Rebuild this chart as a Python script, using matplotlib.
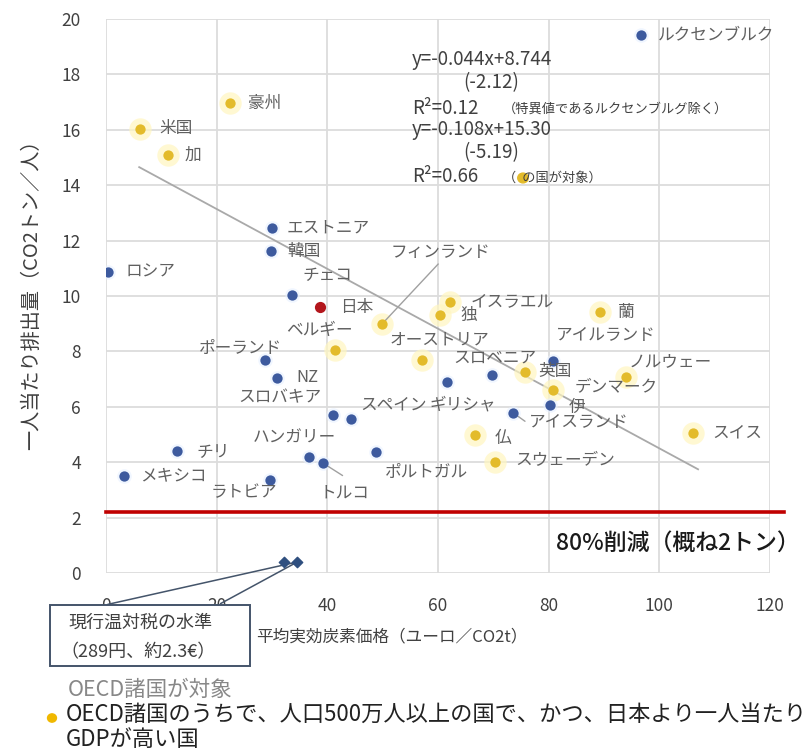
import matplotlib
matplotlib.use("Agg")
import matplotlib.pyplot as plt
from matplotlib.patches import Rectangle
import numpy as np

plt.rcParams['font.family'] = ['Noto Sans CJK JP', 'DejaVu Sans']

# ---------------- data ----------------
blue_names = ['ルクセンブルク', 'ロシア', 'エストニア', '韓国', 'チェコ', 'ポーランド', 'NZ',
              'スロバキア', 'スペイン', 'ギリシャ', 'スロベニア', 'アイルランド', '伊',
              'アイスランド', 'ハンガリー', 'トルコ', 'ポルトガル', 'チリ', 'メキシコ', 'ラトビア']
blue_x = [96.6, 0.4, 30.0, 29.8, 33.6, 28.8, 30.9, 41.0, 44.3, 61.7, 69.8, 80.7, 80.3,
          73.6, 36.7, 39.2, 48.8, 12.8, 3.3, 29.7]
blue_y = [19.42, 10.87, 12.45, 11.62, 10.04, 7.69, 7.04, 5.70, 5.56, 6.90, 7.15, 7.65, 6.06,
          5.78, 4.19, 3.97, 4.37, 4.40, 3.50, 3.36]

yellow_names = ['米国', '加', '豪州', 'フィンランド', 'ベルギー', 'イスラエル', '独', 'オーストリア',
                '蘭', '英国', 'デンマーク', 'ノルウェー', 'スイス', '仏', 'スウェーデン']
yellow_x = [6.1, 11.2, 22.4, 49.9, 41.4, 62.2, 60.4, 57.1, 89.3, 75.8, 80.8, 93.9, 106.1, 66.7, 70.3]
yellow_y = [16.03, 15.09, 16.97, 8.99, 8.05, 9.78, 9.31, 7.69, 9.42, 7.26, 6.61, 7.08, 5.05, 4.98, 4.01]

japan_name = '日本'
japan_x = [38.7]
japan_y = [9.6]

trend_slope = -0.108
trend_intercept = 15.30
trend_range = [6.0, 107.0]

target_level = 2.2
tax_marker_x = [32.2, 34.6]
tax_marker_y = [0.4, 0.4]

x_ticks = [0, 20, 40, 60, 80, 100, 120]
y_ticks = [0, 2, 4, 6, 8, 10, 12, 14, 16, 18, 20]

# label offsets (pixels) : (dx, dy, ha)
label_off = {
    'ルクセンブルク': (17, 0, 'left'), 'ロシア': (17, 0, 'left'), 'エストニア': (15, 0, 'left'),
    '韓国': (16, 0, 'left'), 'チェコ': (11, 19, 'left'), 'ポーランド': (-66, 12, 'left'),
    'NZ': (19, 0, 'left'), 'スロバキア': (-11, 17, 'right'), 'スペイン': (9, 14, 'left'),
    'ギリシャ': (-18, -23, 'left'), 'スロベニア': (-39, 17, 'left'), 'アイルランド': (3, 26, 'left'),
    '伊': (18, -2, 'left'), 'アイスランド': (16, -10, 'left'), 'ハンガリー': (-56, 19, 'left'),
    'トルコ': (-3, -30, 'left'), 'ポルトガル': (9, -21, 'left'), 'チリ': (20, 0, 'left'),
    'メキシコ': (16, 0, 'left'), 'ラトビア': (-60, -13, 'left'),
    '米国': (20, 0, 'left'), '加': (17, 0, 'left'), '豪州': (18, 0, 'left'),
    'フィンランド': (8, 71, 'left'), 'ベルギー': (-49, 20, 'left'), 'イスラエル': (20, 0, 'left'),
    '独': (20, 0, 'left'), 'オーストリア': (-32, 20, 'left'), '蘭': (18, 0, 'left'),
    '英国': (13, 0, 'left'), 'デンマーク': (22, 3, 'left'), 'ノルウェー': (3, 15, 'left'),
    'スイス': (19, 0, 'left'), '仏': (20, -3, 'left'), 'スウェーデン': (20, 1, 'left'),
    '日本': (20, 0, 'left'),
}

W, H = 810, 754
fig = plt.figure(figsize=(W / 100, H / 100), dpi=100)
def fx(px): return px / W
def fy(py): return 1 - py / H

ax = fig.add_axes([fx(106), fy(573), fx(770) - fx(106), fy(19) - fy(573)])
ax.set_xlim(0, 120)
ax.set_ylim(0, 20)
ax.set_xticks(x_ticks)
ax.set_yticks(y_ticks)
ax.grid(True, color='#dcdcdc', linewidth=1.3)
ax.set_axisbelow(True)
for s in ax.spines.values():
    s.set_visible(False)
ax.tick_params(length=0, labelsize=12.5, labelcolor='#404040')
ax.tick_params(axis='x', pad=17)
ax.tick_params(axis='y', pad=18)

# trend line
tx = np.array(trend_range)
ax.plot(tx, trend_slope * tx + trend_intercept, color='#a9a9a9', linewidth=1.3, zorder=2)

# red target line
ax.plot([0, 122.5], [target_level, target_level], color='#c00000', linewidth=2.6,
        clip_on=False, zorder=3)

# points
ax.scatter(yellow_x, yellow_y, s=260, color='#fff6c0', alpha=0.7, linewidths=0, zorder=3)
ax.scatter(blue_x, blue_y, s=110, color='#e6f0ff', alpha=0.6, linewidths=0, zorder=3)
ax.scatter(blue_x, blue_y, s=55, color='#3d5a9e', linewidths=0, zorder=4)
ax.scatter(yellow_x, yellow_y, s=55, color='#e3bb2b', linewidths=0, zorder=4)
ax.scatter(japan_x, japan_y, s=65, color='#b3161c', linewidths=0, zorder=4)

lab_kw = dict(textcoords='offset pixels', va='center', fontsize=12, color='#606060', zorder=5)
for n, x, y in zip(blue_names + yellow_names + [japan_name],
                   blue_x + yellow_x + japan_x, blue_y + yellow_y + japan_y):
    dx, dy, ha = label_off[n]
    ax.annotate(n, (x, y), xytext=(dx, dy), ha=ha, **lab_kw)

# leader lines
fi = yellow_names.index('フィンランド')
ax.annotate('', (yellow_x[fi], yellow_y[fi]), xytext=(58, 62), textcoords='offset pixels',
            arrowprops=dict(arrowstyle='-', color='#a0a0a0', lw=1.0))
ti = blue_names.index('トルコ')
ax.annotate('', (blue_x[ti], blue_y[ti]), xytext=(22, -14), textcoords='offset pixels',
            arrowprops=dict(arrowstyle='-', color='#a0a0a0', lw=1.0))
ii = blue_names.index('アイスランド')
ax.annotate('', (blue_x[ii], blue_y[ii]), xytext=(14, -10), textcoords='offset pixels',
            arrowprops=dict(arrowstyle='-', color='#a0a0a0', lw=1.0))

# regression text
tc = '#404040'
rf = 13.5
fig.text(fx(412), fy(60), 'y=-0.044x+8.744', fontsize=rf, color=tc, va='center')
fig.text(fx(463), fy(83), '(-2.12)', fontsize=rf, color=tc, va='center')
fig.text(fx(412), fy(108), 'R²=0.12', fontsize=rf, color=tc, va='center')
fig.text(fx(503), fy(109), '（特異値であるルクセンブルグ除く）', fontsize=9.5, color=tc, va='center')
fig.text(fx(412), fy(130), 'y=-0.108x+15.30', fontsize=rf, color=tc, va='center')
fig.text(fx(463), fy(153), '(-5.19)', fontsize=rf, color=tc, va='center')
fig.text(fx(412), fy(177), 'R²=0.66', fontsize=rf, color=tc, va='center')
fig.text(fx(503), fy(178), '（  の国が対象）', fontsize=9.5, color=tc, va='center')
fig.patches.append(plt.Circle((fx(523), fy(178)), 0.0065, transform=fig.transFigure,
                              color='#e3bb2b', figure=fig))

# 80% label
fig.text(fx(800), fy(543), '80%削減（概ね2トン）', fontsize=16.5, color='#1a1a1a',
         ha='right', va='center', fontweight='medium')

# axis labels
fig.text(fx(32), fy(290), '一人当たり排出量（CO2トン／人）', rotation=90, fontsize=14.5,
         color='#404040', ha='center', va='center')
fig.text(fx(392), fy(637), '平均実効炭素価格（ユーロ／CO2t）', fontsize=12,
         color='#404040', ha='center', va='center')

# tax level marker and box
ax.scatter(tax_marker_x, tax_marker_y, marker='D', s=28, color='#2f4f7f', zorder=5, clip_on=False)
for sx in (105, 218):
    ax.annotate('', (tax_marker_x[1], tax_marker_y[1]), xytext=(fx(sx), fy(605)),
                textcoords='figure fraction',
                arrowprops=dict(arrowstyle='-', color='#44546a', lw=1.1))
fig.patches.append(Rectangle((fx(50), fy(666)), fx(250) - fx(50), fy(605) - fy(666),
                             transform=fig.transFigure, fill=True, facecolor='white',
                             edgecolor='#44546a', linewidth=1.4, figure=fig, zorder=1))
fig.text(fx(68), fy(623), '現行温対税の水準', fontsize=13, color='#404040', va='center')
fig.text(fx(60), fy(652), '（289円、約2.3€）', fontsize=13, color='#404040', va='center')

# footnotes
fig.text(fx(68), fy(690), 'OECD諸国が対象', fontsize=15.5, color='#888888', va='center')
fig.patches.append(plt.Circle((fx(52), fy(718)), 0.0055, transform=fig.transFigure,
                              color='#f0b800', figure=fig))
fig.text(fx(66), fy(714), 'OECD諸国のうちで、人口500万人以上の国で、かつ、日本より一人当たり',
         fontsize=16, color='#222222', va='center')
fig.text(fx(66), fy(739), 'GDPが高い国', fontsize=16, color='#222222', va='center')

fig.savefig('out.png', dpi=100)
